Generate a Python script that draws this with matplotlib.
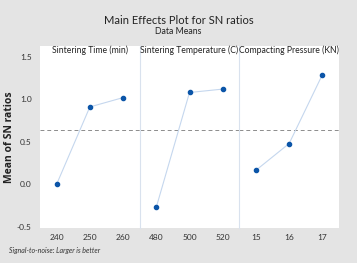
import numpy as np
import matplotlib.pyplot as plt

# data
factors = ['Sintering Time (min)', 'Sintering Temperature (C)', 'Compacting Pressure (KN)']
levels = [['240', '250', '260'], ['480', '500', '520'], ['15', '16', '17']]
time_sn = [0.0, 0.91, 1.02]
temp_sn = [-0.27, 1.08, 1.12]
press_sn = [0.165, 0.48, 1.29]
means = [time_sn, temp_sn, press_sn]
grand_mean = np.mean(time_sn + temp_sn + press_sn)

plt.rc('font', family='Lato', size=6)

W, H = 357, 263
fig = plt.figure(figsize=(W / 100, H / 100), dpi=100)
fig.patch.set_facecolor('#e4e4e4')

left, right, top, bot = 40, 339, 46, 228
pw = (right - left) / 3.0

for i in range(3):
    ax = fig.add_axes([(left + i * pw) / W, 1 - bot / H, pw / W, (bot - top) / H])
    ax.set_facecolor('white')
    x = np.arange(3)
    ax.plot(x, means[i], color='#c5d7ee', linewidth=0.8, zorder=2)
    ax.plot(x, means[i], 'o', color='#0b55a8', markersize=3, zorder=3)
    ax.axhline(grand_mean, color='#8c8c8c', linestyle=(0, (4, 3)), linewidth=0.7, zorder=1)
    ax.set_xlim(-0.5, 2.5)
    ax.set_ylim(-0.514, 1.627)
    ax.set_xticks(x)
    ax.set_xticklabels(levels[i])
    ax.tick_params(length=0, pad=4, colors='#333333', labelsize=6)
    for s in ax.spines.values():
        s.set_visible(False)
    if i > 0:
        ax.spines['left'].set_visible(True)
        ax.spines['left'].set_color('#d9e2ee')
        ax.spines['left'].set_linewidth(0.8)
    if i == 0:
        ax.set_yticks([-0.5, 0.0, 0.5, 1.0, 1.5])
        ax.set_yticklabels(['-0.5', '0.0', '0.5', '1.0', '1.5'])
        ax.tick_params(axis='y', pad=6)
        ax.set_ylabel('Mean of SN ratios', fontsize=7.5, fontweight='bold', family='Open Sans',
                      color='#222222')
        ax.yaxis.set_label_coords(-(left - 15) / pw, 0.5)
    else:
        ax.set_yticks([])
    # panel headers
    fig.text((left + (i + 0.5) * pw) / W, 1 - 50 / H, factors[i], ha='center', va='center',
             fontsize=6.2, color='#222222', zorder=10)

fig.text(0.5, 1 - 20 / H, 'Main Effects Plot for SN ratios', ha='center', va='center',
         fontsize=8, color='#222222')
fig.text(0.5, 1 - 32 / H, 'Data Means', ha='center', va='center', fontsize=6.3, color='#222222')
fig.text(9 / W, 1 - 251 / H, 'Signal-to-noise: Larger is better', ha='left', va='center',
         fontsize=5, style='italic', color='#333333')

plt.savefig('out.png', dpi=100, facecolor=fig.get_facecolor())
